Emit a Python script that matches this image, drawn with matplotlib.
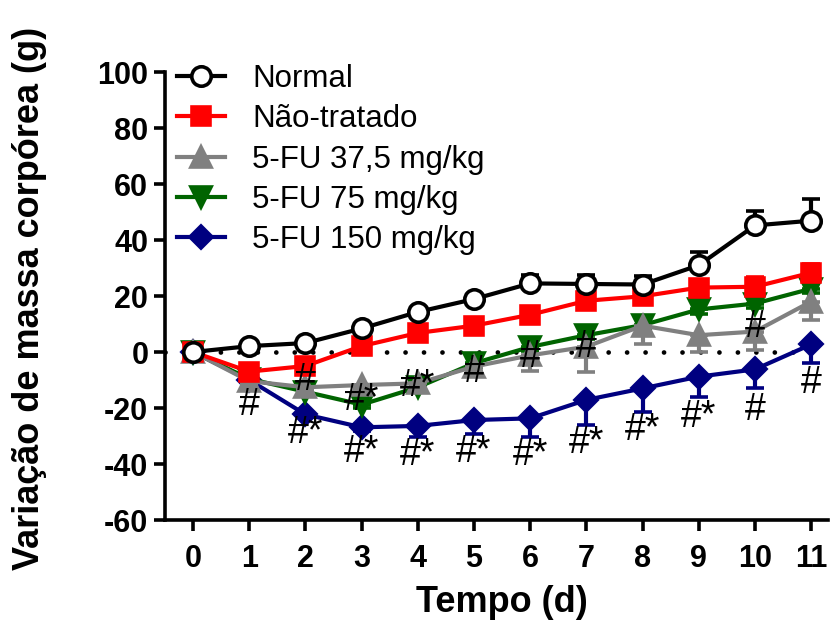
import numpy as np
import matplotlib.pyplot as plt

plt.rcParams['font.family'] = ['Liberation Sans', 'DejaVu Sans']
plt.rcParams['axes.unicode_minus'] = False

# ---- data ----
dias = np.arange(0, 12)

normal = [0, 2.1, 3.2, 8.4, 14.3, 18.9, 24.5, 24.3, 24.1, 31.0, 45.2, 46.9]
normal_err = [0, 1.0, 1.0, 1.2, 1.5, 1.5, 3.0, 3.3, 3.0, 4.8, 5.3, 7.7]

nao_tratado = [0, -7.0, -5.0, 2.1, 6.8, 9.4, 13.3, 18.3, 19.9, 23.0, 23.3, 28.3]
nao_tratado_err = [0, 1.0, 1.0, 1.2, 1.5, 1.5, 1.5, 1.5, 1.5, 1.5, 3.6, 3.0]

fu37 = [0, -10.4, -12.6, -11.8, -11.2, -5.2, -1.2, 1.9, 9.4, 6.0, 7.3, 18.0]
fu37_err = [0, 1.0, 1.0, 1.2, 1.5, 1.5, 5.7, 9.0, 6.4, 6.0, 6.6, 6.6]

fu75 = [0, -9.6, -14.2, -18.8, -12.6, -4.0, 1.8, 6.0, 9.6, 15.2, 17.3, 22.6]
fu75_err = [0, 1.0, 1.0, 1.2, 1.5, 1.5, 1.5, 1.5, 1.5, 1.5, 1.5, 1.5]

fu150 = [0, -10.0, -22.3, -26.9, -26.4, -24.3, -23.7, -17.1, -13.0, -8.8, -6.2, 2.7]
fu150_err = [0, 1.0, 1.0, 1.2, 4.0, 5.0, 6.5, 8.9, 8.3, 7.4, 6.6, 6.8]

# significance marks: (day, y, text)
marca_dia = [1, 2, 3, 4, 5, 6, 7, 10,
             2, 3, 4, 5, 6, 7, 8, 9, 10, 11]
marca_y = [-19.0, -10.0, -17.0, -12.0, -7.0, -1.7, 1.9, 9.0,
           -29.0, -35.6, -36.8, -35.6, -36.8, -32.6, -27.9, -23.1, -20.7, -11.2]
marca_txt = ["#", "#", "#*", "#*", "#", "#", "#", "#",
             "#*", "#*", "#*", "#*", "#*", "#*", "#*", "#*", "#", "#"]

# ---- figure ----
W, H = 831, 621
fig = plt.figure(figsize=(W / 100, H / 100), dpi=100)
ax = fig.add_axes([165 / W, (H - 520) / H, 663 / W, 448 / H])

zero = np.zeros(len(dias))
series = [
    # values, err, up?, color, marker, ms, face, label, z
    (fu150, fu150_err, False, '#000080', 'D', 11, '#000080', '5-FU 150 mg/kg', 3),
    (fu75, fu75_err, False, '#006400', 'v', 14, '#006400', '5-FU 75 mg/kg', 4),
    (fu37, fu37_err, False, '#808080', '^', 14, '#808080', '5-FU 37,5 mg/kg', 5),
    (nao_tratado, nao_tratado_err, True, '#FF0000', 's', 13, '#FF0000', 'Não-tratado', 6),
    (normal, normal_err, True, 'black', 'o', 14, 'white', 'Normal', 7),
]

handles = {}
for vals, err, up, cor, mk, ms, face, lab, z in series:
    yerr = [zero, err] if up else [err, zero]
    eb = ax.errorbar(dias, vals, yerr=yerr, color=cor, lw=3, marker=mk, ms=ms,
                     mfc=face, mec=cor, mew=2.6, capsize=6.5, capthick=3.6,
                     elinewidth=3, zorder=z, label=lab, clip_on=False)
    handles[lab] = eb[0]

ax.axhline(0, color='black', lw=3.4, linestyle=(0, (0.01, 3.9)),
           dash_capstyle='round', zorder=2)

for d, yy, t in zip(marca_dia, marca_y, marca_txt):
    ax.text(d, yy, t, ha='center', va='center', fontsize=27, zorder=10)

ax.set_xlim(-0.5, 11.3)
ax.set_ylim(-60, 100)
ax.set_xticks(dias)
ax.set_yticks(np.arange(-60, 101, 20))
for s in ['top', 'right']:
    ax.spines[s].set_visible(False)
for s in ['left', 'bottom']:
    ax.spines[s].set_linewidth(2.6)
ax.tick_params(axis='both', length=8, width=2.6, labelsize=22)
ax.tick_params(axis='x', pad=9)
ax.tick_params(axis='y', pad=4)
for lbl in ax.get_xticklabels() + ax.get_yticklabels():
    lbl.set_fontweight('bold')

fig.text(30 / W, 1 - 298 / H, 'Variação de massa corpórea (g)', rotation=90,
         ha='center', va='center', fontsize=26, fontweight='bold')
fig.text(502 / W, 1 - 603 / H, 'Tempo (d)', ha='center', va='center',
         fontsize=26, fontweight='bold')

ordem = ['Normal', 'Não-tratado', '5-FU 37,5 mg/kg', '5-FU 75 mg/kg', '5-FU 150 mg/kg']
leg = ax.legend([handles[k] for k in ordem], ordem, loc='upper left',
                bbox_to_anchor=(177 / W, 1 - 64 / H), bbox_transform=fig.transFigure,
                frameon=False, fontsize=22.5, handlelength=1.55, handletextpad=0.85,
                labelspacing=0.33, borderpad=0, borderaxespad=0)

fig.savefig('out.png', dpi=100)
